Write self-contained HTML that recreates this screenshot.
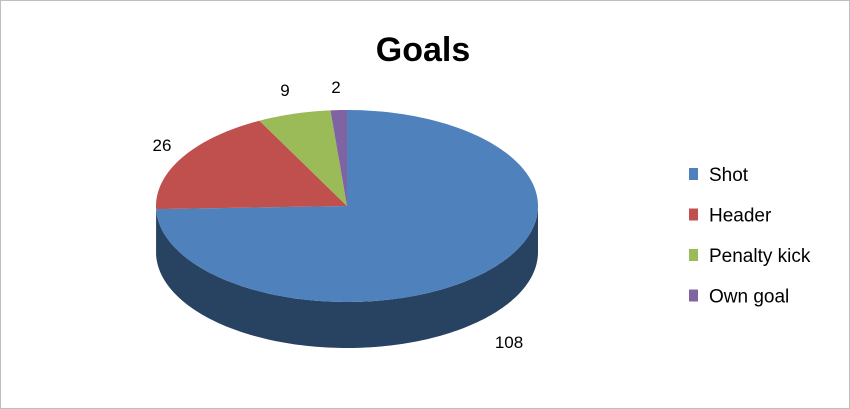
<!DOCTYPE html>
<html><head><meta charset="utf-8"><style>
body{margin:0;background:#fff}
svg{display:block;font-family:"Liberation Sans",sans-serif}
</style></head><body>
<svg id="chart" width="850" height="409" viewBox="0 0 850 409">
<rect x="0.5" y="0.5" width="849" height="408" fill="#fff" stroke="#bfbfbf"/>
<text x="423" y="61" text-anchor="middle" font-size="34" font-weight="bold" fill="#000">Goals</text>
<g id="pie"></g>
<g id="legend"></g>
</svg>
<script>
const categories = ["Shot","Header","Penalty kick","Own goal"];
const values = [108,26,9,2];
const colors = ["#4f81bd","#c0504d","#9bbb59","#8064a2"];
const sideColors = ["#284262","#6b2b29","#56692f","#463758"];
const labelPos = [[509,348],[162,151],[285,96],[336,93]];

const NS="http://www.w3.org/2000/svg";
const cx=347, cy=206, rx=191, ry=96, depth=46;
const pie=document.getElementById('pie');
const total=values.reduce((a,b)=>a+b,0);
function pt(t,dy){return [cx+rx*Math.sin(t), cy+dy-ry*Math.cos(t)];}
function arc(a,b,dy){let s='';const n=Math.max(2,Math.ceil(Math.abs(b-a)/0.02));for(let i=0;i<=n;i++){const p=pt(a+(b-a)*i/n,dy);s+=(i?'L':'')+p[0].toFixed(2)+','+p[1].toFixed(2);}return s;}
let start=0;const ranges=[];
values.forEach(v=>{const e=start+v/total*2*Math.PI;ranges.push([start,e]);start=e;});
ranges.forEach((r,i)=>{
  const a=Math.max(r[0],Math.PI/2), b=Math.min(r[1],3*Math.PI/2);
  if(b<=a) return;
  const p=document.createElementNS(NS,'path');
  p.setAttribute('d','M'+arc(a,b,0)+'L'+arc(b,a,depth)+'Z');
  p.setAttribute('fill',sideColors[i]);
  
  
  pie.appendChild(p);
});
ranges.forEach((r,i)=>{
  const p=document.createElementNS(NS,'path');
  p.setAttribute('d','M'+cx+','+cy+'L'+arc(r[0],r[1],0)+'Z');
  p.setAttribute('fill',colors[i]);
  
  
  pie.appendChild(p);
  const t=document.createElementNS(NS,'text');
  t.setAttribute('x',labelPos[i][0]);t.setAttribute('y',labelPos[i][1]);
  t.setAttribute('text-anchor','middle');t.setAttribute('font-size','17');
  t.textContent=values[i];
  
  
  pie.appendChild(t);
});
const lg=document.getElementById('legend');
categories.forEach((c,i)=>{
  const y=174+i*40.5;
  const r=document.createElementNS(NS,'rect');
  r.setAttribute('x',689);r.setAttribute('y',y-6);r.setAttribute('width',9);r.setAttribute('height',12);
  r.setAttribute('fill',colors[i]);
  
  
  lg.appendChild(r);
  const t=document.createElementNS(NS,'text');
  t.setAttribute('x',709);t.setAttribute('y',y+7);t.setAttribute('font-size','19');
  t.textContent=c;
  
  
  lg.appendChild(t);
});
</script>
</body></html>
